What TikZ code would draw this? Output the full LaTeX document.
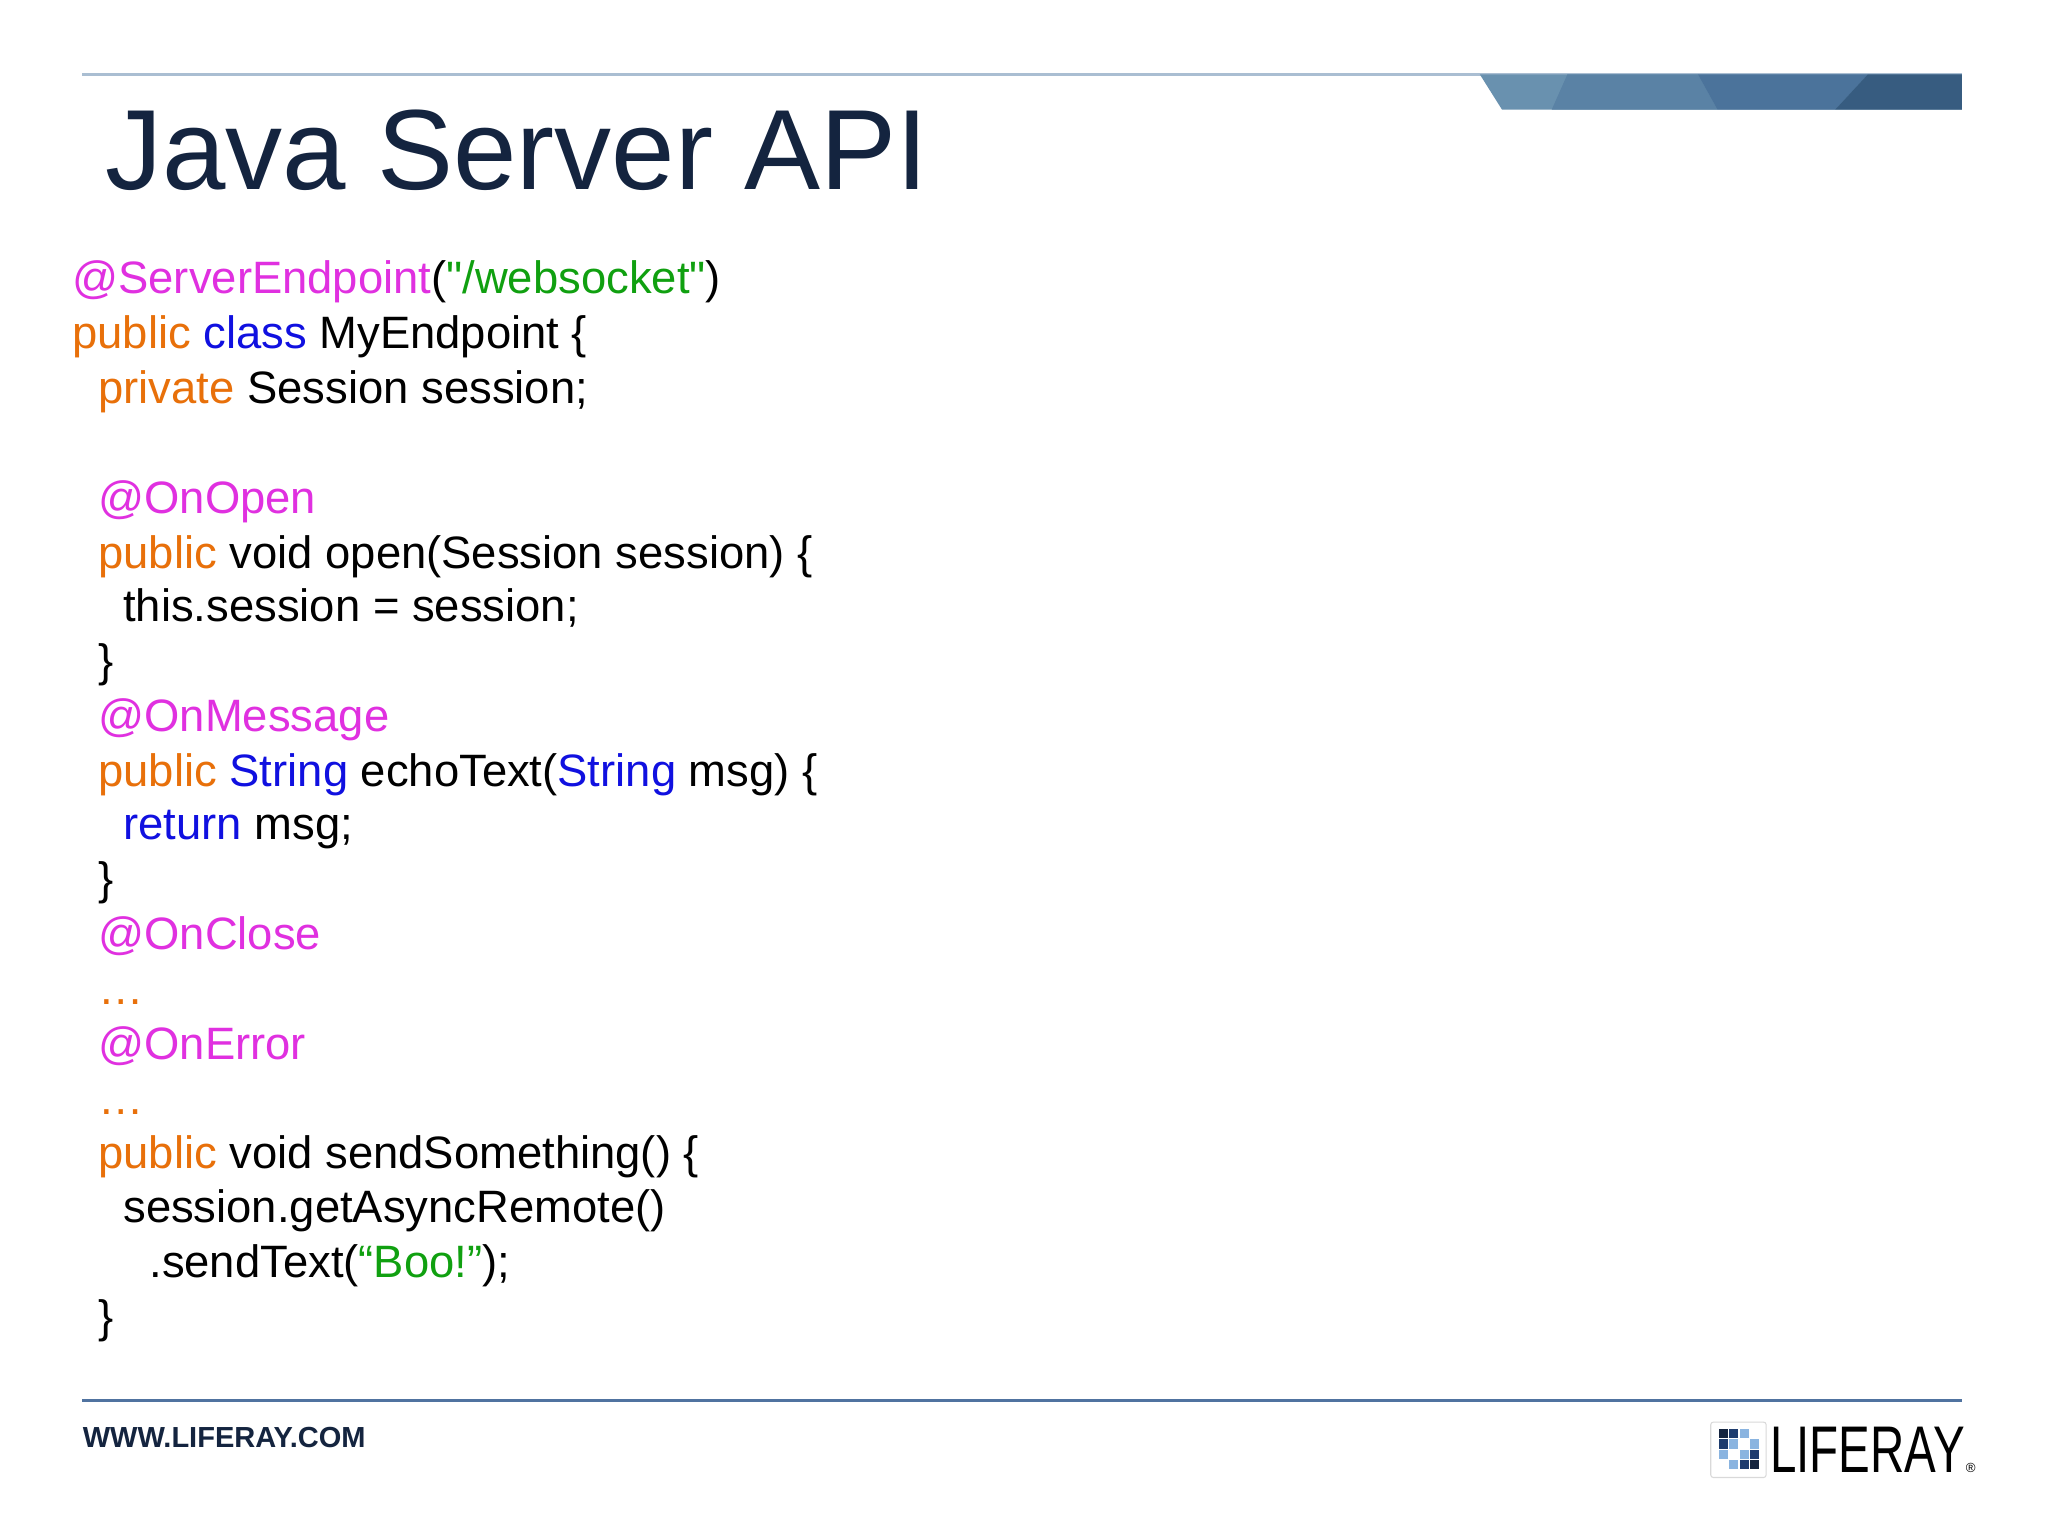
\documentclass[tikz,border=0pt]{standalone}
\usepackage{fontspec}
\setmainfont{Liberation Sans}
\newfontfamily\rawfont{Liberation Sans}[Ligatures=ResetAll]
\definecolor{kw}{HTML}{E8700A}
\definecolor{bl}{HTML}{1010E0}
\definecolor{an}{HTML}{E030E0}
\definecolor{st}{HTML}{10A010}
\definecolor{navy}{HTML}{14243F}
\newcommand{\K}[1]{\textcolor{kw}{#1}}
\newcommand{\B}[1]{\textcolor{bl}{#1}}
\newcommand{\A}[1]{\textcolor{an}{#1}}
\newcommand{\G}[1]{\textcolor{st}{#1}}
\begin{document}
\begin{tikzpicture}[x=0.4949pt,y=-0.4949pt,
  code/.style={anchor=base west,inner sep=0,font=\fontsize{17.2pt}{18pt}\selectfont}]
\useasboundingbox (0,0) rectangle (1568,1176);
\fill[white] (0,0) rectangle (1568,1176);
\draw[line width=1.2pt,color={rgb,255:red,170;green,190;blue,210}] (63,57) -- (1502,57);
\fill[color={rgb,255:red,105;green,145;blue,175}] (1133,57) -- (1502,57) -- (1502,84) -- (1150,84) -- cycle;
\fill[color={rgb,255:red,90;green,130;blue,165}] (1200,57) -- (1300,57) -- (1315,84) -- (1188,84) -- cycle;
\fill[color={rgb,255:red,75;green,115;blue,155}] (1300,57) -- (1430,57) -- (1405,84) -- (1315,84) -- cycle;
\fill[color={rgb,255:red,55;green,92;blue,128}] (1430,57) -- (1502,57) -- (1502,84) -- (1405,84) -- cycle;
\node[anchor=base west,inner sep=0,text=navy,font=\fontsize{43.2pt}{44pt}\selectfont] (title) at (80,145) {Java Server API};
\node[code] (l1) at (55,225) {\A{@ServerEndpoint}(\G{{\rawfont"}/websocket{\rawfont"}})};
\node[code] (l2) at (55,267) {\K{public} \B{class} MyEndpoint \{};
\node[code] (l3) at (75,309) {\K{private} Session session;};
\node[code] (l5) at (75,393) {\A{@OnOpen}};
\node[code] (l6) at (75,435) {\K{public} void open(Session session) \{};
\node[code] (l7) at (94,476) {this.session = session;};
\node[code] (l8) at (75,518) {\}};
\node[code] (l9) at (75,560) {\A{@OnMessage}};
\node[code] (l10) at (75,602) {\K{public} \B{String} echoText(\B{String} msg) \{};
\node[code] (l11) at (94,643) {\B{return} msg;};
\node[code] (l12) at (75,685) {\}};
\node[code] (l13) at (75,727) {\A{@OnClose}};
\node[code] (l14) at (75,769) {\K{…}};
\node[code] (l15) at (75,811) {\A{@OnError}};
\node[code] (l16) at (75,853) {\K{…}};
\node[code] (l17) at (75,895) {\K{public} void sendSomething() \{};
\node[code] (l18) at (94,936) {session.getAsyncRemote()};
\node[code] (l19) at (114,978) {.sendText(\G{“Boo!”});};
\node[code] (l20) at (75,1020) {\}};
\draw[line width=1.2pt,color={rgb,255:red,80;green,115;blue,160}] (63,1072) -- (1502,1072);
\node[anchor=base west,inner sep=0,text=navy,font=\bfseries\fontsize{11pt}{12pt}\selectfont] (url) at (63,1108) {WWW.LIFERAY.COM};
\node[draw=gray!30,fill=white,minimum size=21pt,inner sep=0,rounded corners=1pt] (logo) at (1331,1110) {};
\foreach \i/\j/\c in {0/0/14243F,1/0/1E3C6E,2/0/8AB4E0,0/1/1E3C6E,1/1/8AB4E0,3/1/8AB4E0,0/2/8AB4E0,2/2/8AB4E0,3/2/1E3C6E,1/3/8AB4E0,2/3/1E3C6E,3/3/14243F}{
  \definecolor{tmp}{HTML}{\c}
  \fill[tmp] (1316+\i*8,1094+\j*8) rectangle +(7,7);}
\node[anchor=base west,inner sep=0,font=\fontsize{25pt}{26pt}\selectfont] (lr) at (1355,1127) {\scalebox{0.72}[1]{LIFERAY}};
\node[anchor=base west,inner sep=0,font=\fontsize{5pt}{6pt}\selectfont] (reg) at (lr.base east) {®};
\end{tikzpicture}
\end{document}
